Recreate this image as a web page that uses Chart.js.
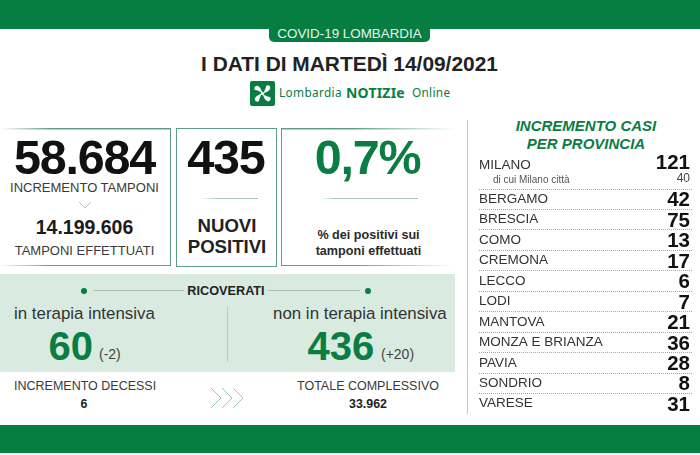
<!DOCTYPE html>
<html>
<head>
<meta charset="utf-8">
<script src="https://cdn.jsdelivr.net/npm/chart.js@4"></script>
<style>
html, body { margin: 0; padding: 0; background: #fff; }
body { position: relative; width: 700px; height: 455px; overflow: hidden; font-family: "Liberation Sans", Arial, sans-serif; color: #2b2b2b; }
.t { position: absolute; white-space: nowrap; line-height: 1; }
.c { text-align: center; }
.b { font-weight: bold; }
.g { color: #0a7d42; }
.big { font-size: 48.5px; line-height: .9; font-weight: bold; letter-spacing: -1.2px; color: #111; }
.sm { font-size: 13px; color: #3a3a3a; }
.sm2 { font-size: 12.5px; color: #3a3a3a; }
.r { position: absolute; }
canvas { position: absolute; }
</style>
</head>
<body>
<div class="r" style="left:0;top:0;width:700px;height:29px;background:#067d41"></div>
<div class="r" style="left:269px;top:29px;width:161px;height:13px;background:#067d41;border-radius:0 0 5px 5px"></div>
<div class="t c" style="left:269px;width:161px;top:26.5px;font-size:13.4px;color:#e9f3ed">COVID-19 LOMBARDIA</div>
<div class="t c b" id="title" style="left:150px;width:399px;top:54px;font-size:20.9px;color:#222"></div>

<svg class="r" style="left:250px;top:81px" width="25" height="25" viewBox="0 0 25 25">
  <rect width="25" height="25" rx="2" fill="#067d41"/>
  <g fill="#fff">
    <circle cx="12.5" cy="12.5" r="1.8"/>
    <path id="petal" d="M12 11 C9 11 8 9 5 9 C3 6 6 4 8 5 C10 6 11 8 12 11Z"/>
    <use href="#petal" transform="rotate(90 12.5 12.5)"/>
    <use href="#petal" transform="rotate(180 12.5 12.5)"/>
    <use href="#petal" transform="rotate(270 12.5 12.5)"/>
  </g>
</svg>
<div class="t g" style="left:279px;top:87px;font-family:'Noto Sans';font-size:11.8px;letter-spacing:.35px">Lombardia</div>
<div class="t g b" style="left:346px;top:85.5px;font-family:'Noto Sans';font-size:14px;letter-spacing:.2px">NOTIZIe</div>
<div class="t g" style="left:412px;top:87px;font-family:'Noto Sans';font-size:11.8px;letter-spacing:.3px">Online</div>

<!-- box tamponi -->
<div class="r" style="left:0;top:128px;width:170px;height:138px;border-right:1.5px solid #5f9f84;background:linear-gradient(90deg,#fff,#5f9f84 30%) top/100% 1.5px no-repeat,linear-gradient(90deg,#fff,#5f9f84 30%) bottom/100% 1.5px no-repeat"></div>
<div class="r" style="left:176px;top:128px;width:99px;height:137px;border:1.5px solid #5f9f84"></div>
<div class="r" style="left:281px;top:128px;width:173px;height:138px;border-left:1.5px solid #5f9f84;background:linear-gradient(270deg,#fff,#5f9f84 60%) top/100% 1.5px no-repeat,linear-gradient(270deg,#fff,#5f9f84 60%) bottom/100% 1.5px no-repeat"></div>

<div class="t c big" id="tamponi" style="left:0;width:169px;top:136.4px"></div>
<div class="t c sm" style="left:0;width:169px;top:181px">INCREMENTO TAMPONI</div>
<svg class="r" style="left:78px;top:201px" width="14" height="9"><path d="M1 1 L7 7 L13 1" fill="none" stroke="#a8c9b8" stroke-width="1"/></svg>
<div class="t c b" id="totaleTamponi" style="left:0;width:169px;top:217.5px;font-size:19.5px;color:#1c1c1c"></div>
<div class="t c sm" style="left:0;width:169px;top:244px">TAMPONI EFFETTUATI</div>

<div class="t c big" id="positivi" style="left:175px;width:102px;top:136.4px"></div>
<div class="r" style="left:200px;top:197.5px;width:58px;height:1.5px;background:linear-gradient(90deg,#fff,#a9c9ba 30%)"></div>
<div class="t c b" style="left:176px;width:102px;top:215px;font-size:18.6px;line-height:21px;color:#222">NUOVI<br>POSITIVI</div>

<div class="t c big g" id="percentuale" style="left:280px;width:175px;top:136.4px;color:#0a7d42"></div>
<div class="r" style="left:320px;top:197.5px;width:98px;height:1.5px;background:linear-gradient(90deg,#fff,#a9c9ba 15%)"></div>
<div class="t c b" style="left:281px;width:175px;top:227px;font-size:12.6px;line-height:16px;color:#2b2b2b">% dei positivi sui<br>tamponi effettuati</div>

<!-- ricoverati -->
<div class="r" style="left:0;top:274px;width:455px;height:98px;background:#d9ebe1"></div>
<div class="r" style="left:81px;top:288px;width:6px;height:6px;border-radius:50%;background:#067d41"></div>
<div class="r" style="left:365px;top:288px;width:6px;height:6px;border-radius:50%;background:#067d41"></div>
<div class="r" style="left:93px;top:290px;width:91px;height:1px;background:#a9c4b6"></div>
<div class="r" style="left:268px;top:290px;width:92px;height:1px;background:#a9c4b6"></div>
<div class="t c b" style="left:126px;width:200px;top:284.5px;font-size:12.7px;color:#222">RICOVERATI</div>
<div class="r" style="left:226.5px;top:306px;width:1px;height:56px;background:#b7cfc2"></div>

<div class="t" style="left:14px;top:306px;font-size:16.9px;color:#333">in terapia intensiva</div>
<div class="t b g" id="intensiva" style="left:48.5px;top:326px;font-size:40px"></div>
<div class="t" id="intensivaDelta" style="left:99px;top:347px;font-size:14px;color:#444"></div>
<div class="t" style="left:273px;top:306px;font-size:16.9px;color:#333">non in terapia intensiva</div>
<div class="t b g" id="nonIntensiva" style="left:307.5px;top:326px;font-size:40px"></div>
<div class="t" id="nonIntensivaDelta" style="left:381px;top:347px;font-size:14px;color:#444"></div>

<div class="t sm2" style="left:14px;top:380px">INCREMENTO DECESSI</div>
<div class="t c b" id="decessi" style="left:34px;width:100px;top:398px;font-size:12.4px;color:#222"></div>
<div class="t sm2" style="left:297px;top:380px">TOTALE COMPLESSIVO</div>
<div class="t c b" id="totale" style="left:318px;width:100px;top:398px;font-size:12.4px;color:#222"></div>
<svg class="r" style="left:210px;top:386px" width="36" height="24">
  <g fill="none" stroke="#9cc9b2" stroke-width="1">
    <path d="M1 2 L11 12 L1 22"/><path d="M12 2 L22 12 L12 22"/><path d="M23 2 L33 12 L23 22"/>
  </g>
</svg>

<div class="r" style="left:0;top:425px;width:700px;height:28px;background:#067d41"></div>

<!-- province -->
<div class="r" style="left:466.5px;top:120px;width:1.5px;height:294px;background:#c9c9c9"></div>
<div class="t c b g" style="left:466px;width:240px;top:117px;font-size:15px;line-height:18px;font-style:italic;color:#0a7d42">INCREMENTO CASI<br>PER PROVINCIA</div>
<canvas id="milanoChart" width="213" height="38" style="left:479px;top:150px"></canvas>
<canvas id="provinceChart" width="213" height="226" style="left:479px;top:188px"></canvas>

<script>
const dataTitolo = 'I DATI DI MARTEDÌ 14/09/2021';
const tamponi = '58.684';
const totaleTamponi = '14.199.606';
const positivi = '435';
const percentuale = '0,7%';
const intensiva = ['60', '(-2)'];
const nonIntensiva = ['436', '(+20)'];
const decessi = '6';
const totale = '33.962';

const milanoLabels = ['MILANO', 'di cui Milano città'];
const milanoValues = [121, 40];
const provinceLabels = ['BERGAMO', 'BRESCIA', 'COMO', 'CREMONA', 'LECCO', 'LODI', 'MANTOVA', 'MONZA E BRIANZA', 'PAVIA', 'SONDRIO', 'VARESE'];
const provinceValues = [42, 75, 13, 17, 6, 7, 21, 36, 28, 8, 31];

document.getElementById('title').textContent = dataTitolo;
document.getElementById('tamponi').textContent = tamponi;
document.getElementById('totaleTamponi').textContent = totaleTamponi;
document.getElementById('positivi').textContent = positivi;
document.getElementById('percentuale').textContent = percentuale;
document.getElementById('intensiva').textContent = intensiva[0];
document.getElementById('intensivaDelta').textContent = intensiva[1];
document.getElementById('nonIntensiva').textContent = nonIntensiva[0];
document.getElementById('nonIntensivaDelta').textContent = nonIntensiva[1];
document.getElementById('decessi').textContent = decessi;
document.getElementById('totale').textContent = totale;

Chart.defaults.font.family = '"Liberation Sans", Arial, sans-serif';

// the numbers sit right aligned at the end of each row
const valueLabels = {
    id: 'valueLabels',
    afterDatasetsDraw(chart, args, opts) {
        const ctx = chart.ctx;
        const meta = chart.getDatasetMeta(0);
        ctx.save();
        ctx.textAlign = 'right';
        ctx.textBaseline = 'middle';
        meta.data.forEach((bar, i) => {
            const sub = chart.data.labels[i].startsWith('di cui');
            ctx.font = sub ? '12px "Liberation Sans"' : 'bold 20.5px "Liberation Sans"';
            ctx.fillStyle = sub ? '#444' : '#111';
            ctx.fillText(chart.data.datasets[0].data[i], chart.chartArea.right - 2, bar.y + opts.shift);
        });
        ctx.restore();
    }
};

function rowChart(id, labels, values, showGrid, topPadding, shift) {
    return new Chart(document.getElementById(id), {
        type: 'bar',
        data: {
            labels: labels,
            datasets: [{ data: values, backgroundColor: 'transparent' }]
        },
        options: {
            indexAxis: 'y',
            responsive: false,
            animation: false,
            devicePixelRatio: 1,
            layout: { padding: { top: topPadding } },
            plugins: { legend: { display: false }, tooltip: { enabled: false }, valueLabels: { shift: shift } },
            scales: {
                x: { display: false, min: 0, max: 130 },
                y: {
                    position: 'left',
                    border: { display: false, dash: [1, 1] },
                    grid: {
                        display: showGrid,
                        drawTicks: false,
                        color: (c) => c.index === labels.length ? 'transparent' : '#8fb3a2'
                    },
                    ticks: {
                        mirror: true,
                        padding: 0,
                        autoSkip: false,
                        color: (c) => labels[c.index].startsWith('di cui') ? '#555' : '#333',
                        font: (c) => labels[c.index].startsWith('di cui') ? { size: 10 } : { size: 13.5 },
                        callback: function (value) {
                            const label = this.getLabelForValue(value);
                            return label.startsWith('di cui') ? '\u00a0\u00a0\u00a0\u00a0\u00a0' + label : label;
                        }
                    },
                    // no extra room for half a label above and below the rows
                    afterFit(scale) {
                        scale.paddingTop = 0;
                        scale.paddingBottom = 0;
                    }
                }
            }
        },
        plugins: [valueLabels]
    });
}

rowChart('milanoChart', milanoLabels, milanoValues, false, 8, -2);
rowChart('provinceChart', provinceLabels, provinceValues, true, 1, 1.5);
</script>
</body>
</html>
